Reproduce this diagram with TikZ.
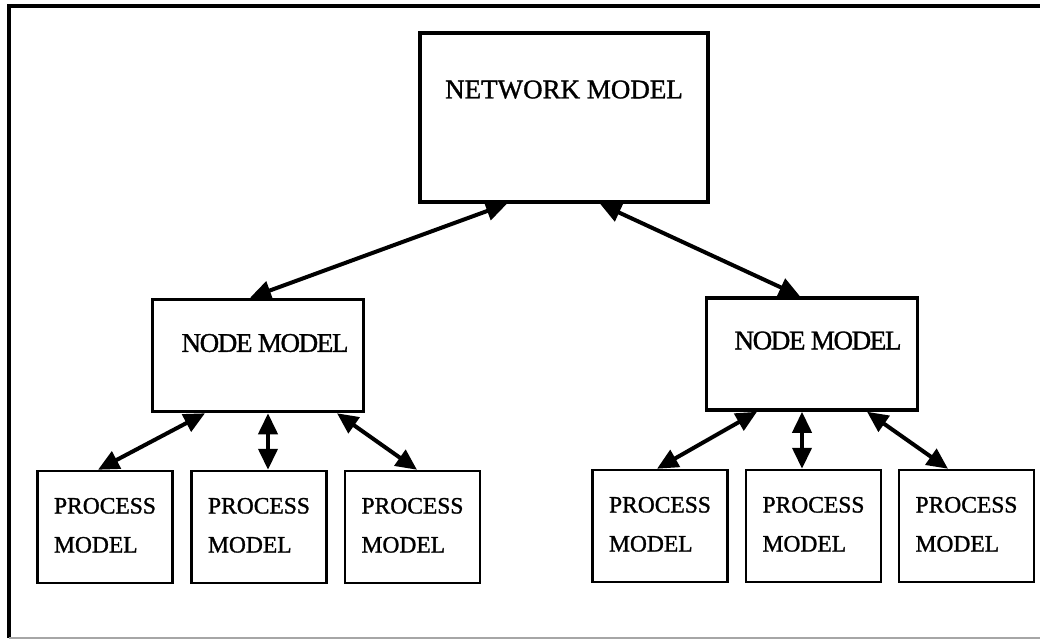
\documentclass[tikz,border=0pt]{standalone}
\usepackage{fontspec}
\setmainfont{Liberation Serif}[FakeBold=1.2]
\newfontfamily\tightfont{Liberation Serif}[LetterSpace=-5.0, FakeBold=1.2]
\usetikzlibrary{arrows.meta,positioning}

\begin{document}
\begin{tikzpicture}[x=1pt,y=-1pt]
	\tikzstyle{Model}	= [rectangle, draw, line width=3.5pt, inner sep=0pt]
	\tikzstyle{Network}	= [Model, minimum width=288pt, minimum height=169pt]
	\tikzstyle{Host}	= [Model, minimum width=211pt, minimum height=112pt]
	\tikzstyle{Process}	= [Model, line width=2.5pt, minimum width=135pt, minimum height=112pt]
	\tikzstyle{Caption}	= [inner sep=0pt, font=\fontsize{27}{30}\selectfont]
	\tikzstyle{Small}	= [inner sep=0pt, align=left, font=\fontsize{23.5}{39}\selectfont]
	\tikzstyle{Link}	= [<->, >={Triangle[length=21pt,width=19pt]}, line width=4pt]

	\useasboundingbox (0,0) rectangle (1040,641);
	% outer frame
	\draw [line width=3.5pt] (1041,6) -- (9,6) -- (9,638);
	\draw [line width=1.5pt, gray!70] (9,638) -- (1041,638);

	\node (net) at (564,117.5) [Network][label={[Caption, anchor=north, yshift=-49pt]north:NETWORK MODEL}] {};

	\node (nodeL) at (258,355.5) [Host][label={[Caption, anchor=north, xshift=7pt, yshift=-36pt]north:{\tightfont NODE MODEL}}] {};
	\node (nodeR) at (812,354) [Host][label={[Caption, anchor=north, xshift=6pt, yshift=-35pt]north:{\tightfont NODE MODEL}}] {};

	\node (p1) at (105,527) [Process][label={[Small, anchor=north, yshift=-28pt]north:PROCESS\\MODEL}] {};
	\node (p2) at (259,527) [Process][label={[Small, anchor=north, yshift=-28pt]north:PROCESS\\MODEL}] {};
	\node (p3) at (412.5,527) [Process][label={[Small, anchor=north, yshift=-28pt]north:PROCESS\\MODEL}] {};
	\node (q1) at (660,526) [Process][label={[Small, anchor=north, yshift=-28pt]north:PROCESS\\MODEL}] {};
	\node (q2) at (813.5,526) [Process][label={[Small, anchor=north, yshift=-28pt]north:PROCESS\\MODEL}] {};
	\node (q3) at (966.5,526) [Process][label={[Small, anchor=north, yshift=-28pt]north:PROCESS\\MODEL}] {};

	\draw [Link] ([xshift=-57pt]net.south) to ([xshift=-8pt]nodeL.north);
	\draw [Link] ([xshift=36pt]net.south) to ([xshift=-12pt]nodeR.north);

	\draw [Link] ([xshift=-53pt]nodeL.south) to ([xshift=-7pt]p1.north);
	\draw [Link] ([xshift=10pt]nodeL.south) to ([xshift=9pt]p2.north);
	\draw [Link] ([xshift=79pt]nodeL.south) to ([xshift=4.5pt]p3.north);

	\draw [Link] ([xshift=-55pt]nodeR.south) to ([xshift=-3pt]q1.north);
	\draw [Link] ([xshift=-10pt]nodeR.south) to ([xshift=-11.5pt]q2.north);
	\draw [Link] ([xshift=55pt]nodeR.south) to ([xshift=-18.5pt]q3.north);
\end{tikzpicture}
\end{document}
